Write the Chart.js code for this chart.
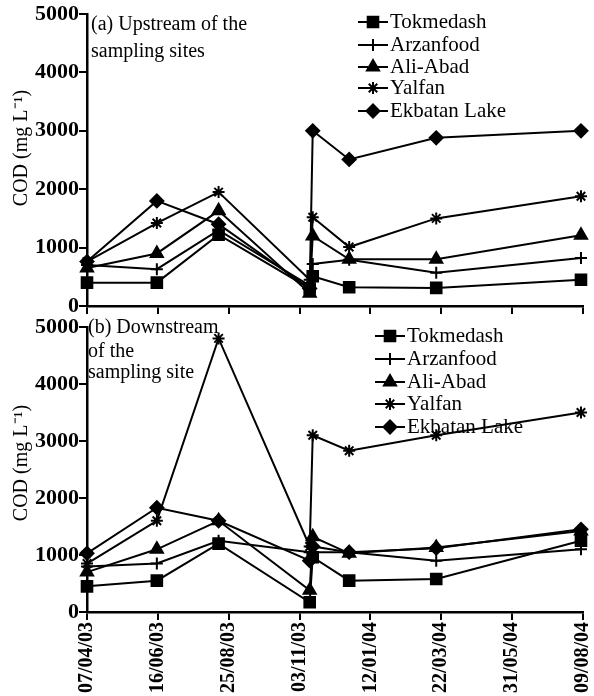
<!DOCTYPE html>
<html>
<head>
<meta charset="utf-8">
<script src="https://cdn.jsdelivr.net/npm/chart.js@4/dist/chart.umd.min.js"></script>
<style>
  body { margin: 0; background: #fff; }
  #wrap { position: relative; width: 594px; height: 696px; }
  canvas { position: absolute; left: 0; }
  #upCanvas { top: 0; }
  #downCanvas { top: 310px; }
</style>
</head>
<body>
<div id="wrap">
  <canvas id="upCanvas" width="594" height="320"></canvas>
  <canvas id="downCanvas" width="594" height="386"></canvas>
</div>
<script>
// sampling days counted from 07/04/03
const sampleDays = [0, 69, 130, 220, 223, 259, 345, 488];
const tickLabels = ['07/04/03', '16/06/03', '25/08/03', '03/11/03', '12/01/04', '22/03/04', '31/05/04', '09/08/04'];
const yTicks = [0, 1000, 2000, 3000, 4000, 5000];
const sites = ['Tokmedash', 'Arzanfood', 'Ali-Abad', 'Yalfan', 'Ekbatan Lake'];

// (a) upstream COD, mg/L
const upTokmedash = [400, 400, 1220, 300, 510, 320, 310, 450];
const upArzanfood = [700, 630, 1300, 350, 720, 790, 570, 820];
const upAliAbad   = [650, 900, 1630, 220, 1200, 800, 800, 1210];
const upYalfan    = [760, 1420, 1950, 450, 1520, 1010, 1500, 1880];
const upEkbatan   = [760, 1800, 1400, 300, 3000, 2510, 2880, 3000];

// (b) downstream COD, mg/L
const downTokmedash = [450, 550, 1200, 170, 960, 550, 580, 1250];
const downArzanfood = [800, 850, 1250, 1050, 1050, 1050, 900, 1100];
const downAliAbad   = [700, 1100, 1600, 380, 1320, 1030, 1130, 1420];
const downYalfan    = [850, 1600, 4800, 1150, 3100, 2830, 3100, 3500];
const downEkbatan   = [1030, 1830, 1600, 900, 1150, 1050, 1120, 1450];

const markerStyle = ['rect', 'cross', 'triangle', 'star', 'rectRot'];
const markerSize = [7.5, 6, 7, 6, 6.5];

const serif = '"Liberation Serif", "Times New Roman", serif';

function makeDatasets(seriesList) {
  return seriesList.map((vals, i) => ({
    label: sites[i],
    data: vals.map((v, j) => ({ x: sampleDays[j], y: v })),
    borderColor: '#000',
    backgroundColor: '#000',
    borderWidth: 2,
    pointStyle: markerStyle[i],
    pointRadius: markerSize[i],
    pointBorderWidth: 2,
    pointBackgroundColor: '#000',
    pointBorderColor: '#000',
    tension: 0,
    clip: false
  }));
}

function drawMarker(ctx, i, x, y) {
  ctx.save();
  ctx.fillStyle = '#000';
  ctx.strokeStyle = '#000';
  ctx.lineWidth = 2;
  Chart.helpers.drawPoint(ctx, { pointStyle: markerStyle[i], radius: markerSize[i], borderWidth: 2, rotation: 0 }, x, y);
  ctx.restore();
}

// text, legend and axis title drawn on top
function notesPlugin(cfg) {
  return {
    id: 'notes',
    afterDraw(chart) {
      const ctx = chart.ctx;
      ctx.save();
      ctx.fillStyle = '#000';
      ctx.textBaseline = 'middle';
      ctx.font = '20px ' + serif;
      ctx.textAlign = 'left';
      cfg.title.forEach((t, k) => ctx.fillText(t, cfg.titleX, cfg.titleY[k]));

      // legend
      sites.forEach((name, i) => {
        const y = cfg.legY[i];
        ctx.strokeStyle = '#000';
        ctx.lineWidth = 2;
        ctx.beginPath();
        ctx.moveTo(cfg.legX, y);
        ctx.lineTo(cfg.legX + 30, y);
        ctx.stroke();
        drawMarker(ctx, i, cfg.legX + 15, y);
        ctx.fillStyle = '#000';
        ctx.font = '21px ' + serif;
        ctx.fillText(name, cfg.legX + 32, y);
      });

      // y axis title
      ctx.save();
      ctx.translate(22, cfg.yTitleY);
      ctx.rotate(-Math.PI / 2);
      ctx.textAlign = 'center';
      ctx.font = '20px ' + serif;
      ctx.fillText('COD (mg L⁻¹)', 0, 0);
      ctx.restore();
      ctx.restore();
    }
  };
}

function makeChart(id, seriesList, opts) {
  return new Chart(document.getElementById(id), {
    type: 'line',
    data: { datasets: makeDatasets(seriesList) },
    options: {
      responsive: false,
      animation: false,
      devicePixelRatio: 1,
      layout: { padding: { top: opts.padTop, right: 11, left: 0, bottom: 0 } },
      plugins: { legend: { display: false }, tooltip: { enabled: false } },
      scales: {
        x: {
          type: 'linear',
          min: 0,
          max: 490,
          afterBuildTicks: s => { s.ticks = tickLabels.map((_, k) => ({ value: k * 70 })); },
          afterFit: s => { s.height = opts.xHeight; s.paddingLeft = 0; s.paddingRight = 0; },
          grid: { display: true, drawOnChartArea: false, drawTicks: true, tickLength: 8, color: '#000', lineWidth: 2 },
          border: { display: true, color: '#000', width: 2.5 },
          ticks: {
            display: opts.showX,
            autoSkip: false,
            minRotation: 90,
            maxRotation: 90,
            padding: 2,
            color: '#000',
            font: { family: serif, size: 20, weight: 'bold' },
            callback: v => tickLabels[Math.round(v / 70)]
          }
        },
        y: {
          min: 0,
          max: 5000,
          afterBuildTicks: s => { s.ticks = yTicks.map(v => ({ value: v })); },
          afterFit: s => { s.width = 87; s.paddingTop = 0; s.paddingBottom = 0; },
          grid: { display: true, drawOnChartArea: false, drawTicks: true, tickLength: 8, color: '#000', lineWidth: 2 },
          border: { display: true, color: '#000', width: 2.5 },
          ticks: {
            padding: 0,
            color: '#000',
            font: { family: serif, size: 22, weight: 'bold' },
            callback: v => String(v)
          }
        }
      }
    },
    plugins: [notesPlugin(opts.notes)]
  });
}

makeChart('upCanvas', [upTokmedash, upArzanfood, upAliAbad, upYalfan, upEkbatan], {
  padTop: 14,
  xHeight: 14,
  showX: false,
  notes: {
    title: ['(a) Upstream of the', 'sampling sites'],
    titleX: 91, titleY: [25, 52],
    legX: 358, legY: [22, 45, 67, 88, 111],
    yTitleY: 148
  }
});

makeChart('downCanvas', [downTokmedash, downArzanfood, downAliAbad, downYalfan, downEkbatan], {
  padTop: 17,
  xHeight: 84,
  showX: true,
  notes: {
    title: ['(b) Downstream', 'of the', 'sampling site'],
    titleX: 88, titleY: [18, 42, 63],
    legX: 375, legY: [26, 49, 72, 94, 117],
    yTitleY: 153
  }
});
</script>
</body>
</html>
